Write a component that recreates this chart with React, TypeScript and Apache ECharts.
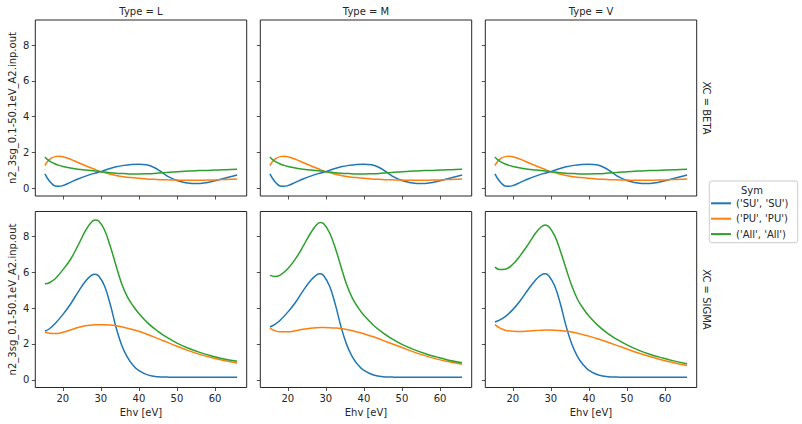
import React, { useEffect, useRef } from "react";
import * as echarts from "echarts";

// ---- data ----
const types = ["L", "M", "V"];
const symNames = ["('SU', 'SU')", "('PU', 'PU')", "('All', 'All')"];
const symColors = ["#1f77b4", "#ff7f0e", "#2ca02c"];
const xTicks = [20, 30, 40, 50, 60];
const yTicks = [0, 2, 4, 6, 8];

// XC = BETA row
const ehvB = [15.3, 16, 17, 18, 19, 20, 22, 24, 26, 28, 30, 32, 34, 36, 38, 40, 42, 44, 46, 48, 50, 52, 54, 56, 58, 60, 62, 64, 65.8];
const betaSU = [0.8, 0.55, 0.28, 0.13, 0.11, 0.15, 0.33, 0.52, 0.68, 0.82, 0.93, 1.08, 1.2, 1.28, 1.33, 1.35, 1.31, 1.16, 0.9, 0.62, 0.44, 0.33, 0.27, 0.27, 0.33, 0.42, 0.53, 0.64, 0.74];
const betaPU = [1.27, 1.5, 1.68, 1.77, 1.79, 1.76, 1.62, 1.44, 1.26, 1.09, 0.93, 0.81, 0.72, 0.65, 0.6, 0.56, 0.52, 0.5, 0.48, 0.47, 0.46, 0.45, 0.45, 0.45, 0.46, 0.47, 0.49, 0.5, 0.52];
const betaAll = [1.75, 1.6, 1.46, 1.36, 1.28, 1.22, 1.13, 1.06, 1.02, 0.98, 0.93, 0.88, 0.84, 0.82, 0.8, 0.8, 0.81, 0.83, 0.87, 0.9, 0.93, 0.95, 0.97, 0.99, 1.0, 1.02, 1.03, 1.05, 1.06];

// XC = SIGMA row
const ehvS = [15.3, 16.5, 18, 20, 22, 24, 26, 27.5, 28.5, 29.5, 31, 32.5, 34, 35.5, 37, 38.5, 40, 42.5, 45, 47.5, 50, 53, 56, 59, 62, 65.8];
const sigmaL_SU = [2.71, 2.85, 3.15, 3.64, 4.22, 4.9, 5.52, 5.83, 5.9, 5.78, 5.22, 4.19, 2.92, 1.92, 1.25, 0.8, 0.51, 0.26, 0.17, 0.15, 0.14, 0.14, 0.14, 0.14, 0.14, 0.14];
const sigmaL_PU = [2.67, 2.6, 2.58, 2.65, 2.78, 2.92, 3.02, 3.05, 3.07, 3.08, 3.08, 3.06, 3.02, 2.96, 2.88, 2.8, 2.71, 2.52, 2.3, 2.09, 1.87, 1.63, 1.42, 1.24, 1.09, 0.94];
const sigmaL_All = [5.36, 5.42, 5.64, 6.14, 6.72, 7.5, 8.35, 8.8, 8.92, 8.85, 8.35, 7.44, 6.37, 5.35, 4.62, 4.12, 3.7, 3.14, 2.71, 2.35, 2.05, 1.76, 1.53, 1.34, 1.18, 1.03];
const sigmaM_SU = [2.95, 3.08, 3.33, 3.78, 4.32, 4.97, 5.55, 5.85, 5.92, 5.8, 5.22, 4.2, 2.95, 1.95, 1.27, 0.82, 0.52, 0.27, 0.17, 0.15, 0.14, 0.14, 0.14, 0.14, 0.14, 0.14];
const sigmaM_PU = [2.89, 2.75, 2.68, 2.68, 2.74, 2.82, 2.88, 2.91, 2.92, 2.92, 2.91, 2.89, 2.86, 2.81, 2.74, 2.66, 2.57, 2.4, 2.2, 2.0, 1.8, 1.56, 1.35, 1.17, 1.02, 0.87];
const sigmaM_All = [5.83, 5.77, 5.85, 6.2, 6.75, 7.45, 8.2, 8.65, 8.78, 8.7, 8.2, 7.35, 6.3, 5.3, 4.55, 4.03, 3.6, 3.05, 2.62, 2.27, 1.98, 1.7, 1.47, 1.28, 1.11, 0.95];
const sigmaV_SU = [3.23, 3.33, 3.53, 3.92, 4.43, 5.03, 5.58, 5.86, 5.92, 5.8, 5.25, 4.25, 3.0, 2.0, 1.3, 0.84, 0.53, 0.27, 0.17, 0.15, 0.14, 0.14, 0.14, 0.14, 0.14, 0.14];
const sigmaV_PU = [3.08, 2.9, 2.77, 2.71, 2.7, 2.72, 2.75, 2.77, 2.78, 2.78, 2.77, 2.75, 2.72, 2.67, 2.6, 2.52, 2.44, 2.28, 2.1, 1.91, 1.72, 1.5, 1.3, 1.12, 0.97, 0.8];
const sigmaV_All = [6.29, 6.16, 6.18, 6.45, 6.95, 7.55, 8.2, 8.55, 8.65, 8.55, 8.05, 7.2, 6.2, 5.25, 4.5, 3.98, 3.56, 3.01, 2.58, 2.24, 1.95, 1.66, 1.43, 1.24, 1.07, 0.9];

const FONT = "DejaVu Sans";
const TXT = "#262626";

export default function App() {
  const ref = useRef<HTMLDivElement>(null);

  useEffect(() => {
    if (!ref.current) return;
    const chart = echarts.init(ref.current, null, { renderer: "svg" });

    const colLeft = [35.3, 260.3, 485.3];
    const gw = 211.4;
    const rowTop = [20, 211.5];
    const gh = 176;

    const panels = [
      { row: 0, col: 0, xs: ehvB, ys: [betaSU, betaPU, betaAll] },
      { row: 0, col: 1, xs: ehvB, ys: [betaSU, betaPU, betaAll] },
      { row: 0, col: 2, xs: ehvB, ys: [betaSU, betaPU, betaAll] },
      { row: 1, col: 0, xs: ehvS, ys: [sigmaL_SU, sigmaL_PU, sigmaL_All] },
      { row: 1, col: 1, xs: ehvS, ys: [sigmaM_SU, sigmaM_PU, sigmaM_All] },
      { row: 1, col: 2, xs: ehvS, ys: [sigmaV_SU, sigmaV_PU, sigmaV_All] },
    ];

    const grids: any[] = [];
    const xAxes: any[] = [];
    const yAxes: any[] = [];
    const series: any[] = [];

    panels.forEach((p, i) => {
      grids.push({
        left: colLeft[p.col],
        top: rowTop[p.row],
        width: gw,
        height: gh,
        show: true,
        borderColor: "#262626",
        borderWidth: 1,
        backgroundColor: "transparent",
      });
      xAxes.push({
        type: "value",
        gridIndex: i,
        min: 12.775,
        max: 68.325,
        position: "bottom",
        splitLine: { show: false },
        axisLine: { show: false, onZero: false },
        axisTick: {
          show: true,
          length: 3.5,
          lineStyle: { color: "#262626", width: 0.8 },
          customValues: xTicks,
        },
        axisLabel: {
          show: p.row === 1,
          customValues: xTicks,
          margin: 6,
          fontFamily: FONT,
          fontSize: 10,
          color: TXT,
        },
      });
      yAxes.push({
        type: "value",
        gridIndex: i,
        min: -0.43,
        max: 9.4,
        position: "left",
        splitLine: { show: false },
        axisLine: { show: false, onZero: false },
        axisTick: {
          show: true,
          length: 3.5,
          lineStyle: { color: "#262626", width: 0.8 },
          customValues: yTicks,
        },
        axisLabel: {
          show: p.col === 0,
          customValues: yTicks,
          margin: 6,
          fontFamily: FONT,
          fontSize: 10,
          color: TXT,
        },
      });
      p.ys.forEach((ys, k) => {
        series.push({
          type: "line",
          name: symNames[k],
          xAxisIndex: i,
          yAxisIndex: i,
          data: p.xs.map((x, j) => [x, ys[j]]),
          showSymbol: false,
          smooth: 0.4,
          lineStyle: { width: 1.5, color: symColors[k] },
          itemStyle: { color: symColors[k] },
          z: 2 + k,
        });
      });
    });

    const graphic: any[] = [];
    types.forEach((t, c) => {
      graphic.push({
        type: "text",
        x: colLeft[c] + gw / 2,
        y: 11.5,
        style: { text: `Type = ${t}`, fontFamily: FONT, fontSize: 10, fill: TXT, align: "center", verticalAlign: "middle" },
      });
      graphic.push({
        type: "text",
        x: colLeft[c] + gw / 2,
        y: 412,
        style: { text: "Ehv [eV]", fontFamily: FONT, fontSize: 10, fill: TXT, align: "center", verticalAlign: "middle" },
      });
    });
    ["XC = BETA", "XC = SIGMA"].forEach((t, r) => {
      graphic.push({
        type: "text",
        x: 706.5,
        y: rowTop[r] + gh / 2,
        rotation: -Math.PI / 2,
        style: { text: t, fontFamily: FONT, fontSize: 10, fill: TXT, align: "center", verticalAlign: "middle" },
      });
      graphic.push({
        type: "text",
        x: 12.7,
        y: rowTop[r] + gh / 2,
        rotation: Math.PI / 2,
        style: { text: "n2_3sg_0.1-50.1eV_A2.inp.out", fontFamily: FONT, fontSize: 10, fill: TXT, align: "center", verticalAlign: "middle" },
      });
    });
    graphic.push({
      type: "rect",
      shape: { x: 709.3, y: 181, width: 88.4, height: 61.7, r: 2.5 },
      style: { fill: "rgba(255,255,255,0.8)", stroke: "#cccccc", lineWidth: 1 },
      z: 0,
    });
    graphic.push({
      type: "text",
      x: 752,
      y: 190.7,
      style: { text: "Sym", fontFamily: FONT, fontSize: 10, fill: TXT, align: "center", verticalAlign: "middle" },
    });

    chart.setOption({
      animation: false,
      backgroundColor: "#ffffff",
      grid: grids,
      xAxis: xAxes,
      yAxis: yAxes,
      series,
      legend: {
        show: true,
        orient: "vertical",
        left: 711,
        top: 197.3,
        padding: 0,
        itemWidth: 20,
        itemHeight: 2,
        itemGap: 3.4,
        icon: "rect",
        selectedMode: false,
        data: symNames,
        textStyle: { fontFamily: FONT, fontSize: 10, color: TXT, lineHeight: 12 },
        z: 10,
      },
      graphic: { elements: graphic },
    });

    return () => chart.dispose();
  }, []);

  return (
    <div
      ref={ref}
      style={{ position: "fixed", left: 0, top: 0, width: 802, height: 424, background: "#fff" }}
    />
  );
}
